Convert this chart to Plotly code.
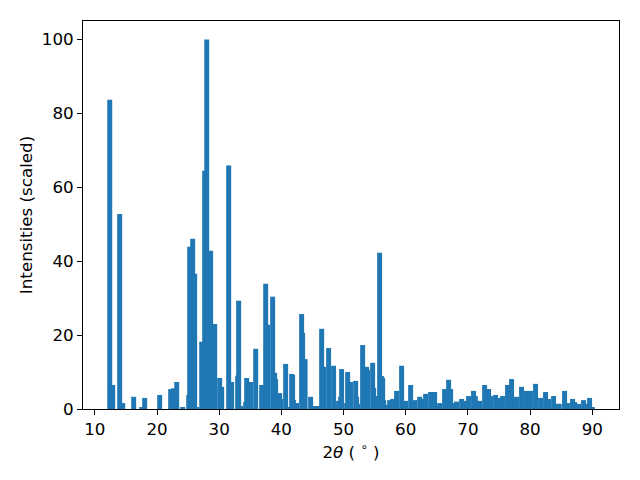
import plotly.graph_objects as go

two_theta = [
    12.40, 12.88, 14.00, 14.49, 16.25, 17.54, 18.02, 20.43, 22.20, 22.68,
    23.17, 24.13, 25.10, 25.26, 25.74, 26.06, 26.38, 27.19, 27.67, 28.00,
    28.63, 29.28, 30.08, 30.40, 31.53, 32.00, 32.97, 33.13, 33.46, 34.26,
    34.42, 35.06, 35.87, 36.83, 37.48, 37.80, 38.60, 38.92, 39.08, 39.73,
    39.89, 40.69, 41.10, 41.66, 41.81, 41.97, 42.46, 43.26, 43.42, 43.82,
    44.71, 45.30, 45.90, 46.48, 46.80, 47.60, 48.40, 49.20, 49.53, 49.69,
    50.50, 50.66, 51.14, 51.95, 52.10, 52.30, 53.07, 53.71, 53.87, 54.68,
    54.84, 55.16, 55.80, 56.13, 56.29, 56.45, 56.60, 57.09, 57.41, 57.89,
    58.53, 59.34, 59.82, 59.98, 60.79, 61.10, 61.43, 62.24, 62.72, 63.20,
    64.00, 64.65, 65.20, 65.45, 66.25, 66.90, 67.22, 67.50, 67.86, 68.18,
    68.99, 69.47, 70.11, 70.91, 71.20, 71.50, 71.88, 72.69, 73.33, 73.65,
    74.45, 74.94, 75.26, 75.58, 76.38, 77.02, 77.50, 77.82, 78.63, 79.43,
    79.70, 80.08, 80.88, 81.69, 82.49, 82.97, 83.78, 84.40, 84.70, 85.55,
    85.90, 86.03, 86.83, 87.15, 87.80, 88.60, 88.90, 89.57, 90.00,
]

intensity = [
    83.7, 6.5, 52.8, 1.6, 3.3, 0.5, 3.0, 3.8, 5.4, 5.6,
    7.3, 0.5, 3.8, 43.9, 46.1, 36.6, 0.5, 18.2, 64.5, 100.0,
    42.8, 23.0, 8.4, 6.0, 65.9, 7.3, 9.0, 29.3, 0.8, 1.9,
    8.4, 7.3, 16.3, 6.5, 33.9, 22.8, 30.4, 9.8, 8.1, 4.3,
    2.7, 12.2, 0.5, 9.5, 9.2, 2.4, 1.6, 25.7, 20.6, 13.5,
    3.3, 0.8, 0.8, 21.7, 11.4, 16.5, 11.7, 2.2, 3.3, 10.8,
    1.6, 10.0, 7.3, 7.6, 3.3, 1.4, 17.3, 11.4, 10.6, 12.5,
    5.7, 3.5, 42.3, 8.9, 8.4, 2.4, 0.8, 1.1, 2.4, 2.7,
    4.9, 11.7, 1.4, 2.2, 6.5, 0.8, 2.4, 3.3, 2.7, 4.1,
    4.6, 4.6, 0.8, 1.6, 5.4, 7.9, 5.4, 1.4, 1.6, 2.0,
    2.7, 2.2, 3.5, 4.9, 3.5, 1.9, 2.2, 6.5, 5.4, 3.5,
    3.8, 3.0, 2.4, 3.5, 6.5, 8.1, 2.2, 3.3, 6.0, 4.9,
    1.0, 4.9, 6.8, 3.0, 4.6, 2.7, 3.5, 1.4, 1.4, 4.9,
    0.5, 1.6, 2.7, 1.9, 1.4, 2.4, 1.4, 3.0, 0.5,
]

x_ticks = [10, 20, 30, 40, 50, 60, 70, 80, 90]
y_ticks = [0, 20, 40, 60, 80, 100]

fig = go.Figure(
    go.Bar(
        x=two_theta,
        y=intensity,
        width=0.8,
        marker=dict(color="#1f77b4", line=dict(width=0)),
    )
)

font = dict(family="DejaVu Sans", size=16.7, color="black")

# page body adds an 8px offset; margins compensate so the plot area sits at
# x 83..619, y 21..409 of the window
fig.update_layout(
    width=640,
    height=480,
    margin=dict(l=75, r=29, t=13, b=79),
    paper_bgcolor="white",
    plot_bgcolor="white",
    barmode="overlay",
    showlegend=False,
    font=font,
)

fig.update_xaxes(
    range=[8.1, 94.3],
    tickvals=x_ticks,
    ticks="outside",
    ticklen=5,
    tickwidth=1,
    tickcolor="black",
    showline=True,
    linecolor="black",
    linewidth=1,
    mirror=True,
    showgrid=False,
    zeroline=False,
    tickfont=font,
    title=dict(text="2<i>θ</i> ( <sup>∘</sup> )", font=font, standoff=8),
)

fig.update_yaxes(
    range=[0, 105],
    tickvals=y_ticks,
    ticks="outside",
    ticklen=5,
    tickwidth=1,
    tickcolor="black",
    showline=True,
    linecolor="black",
    linewidth=1,
    mirror=True,
    showgrid=False,
    zeroline=False,
    tickfont=font,
    title=dict(text="Intensities (scaled)", font=font, standoff=4),
)

fig.write_html("out.html")
